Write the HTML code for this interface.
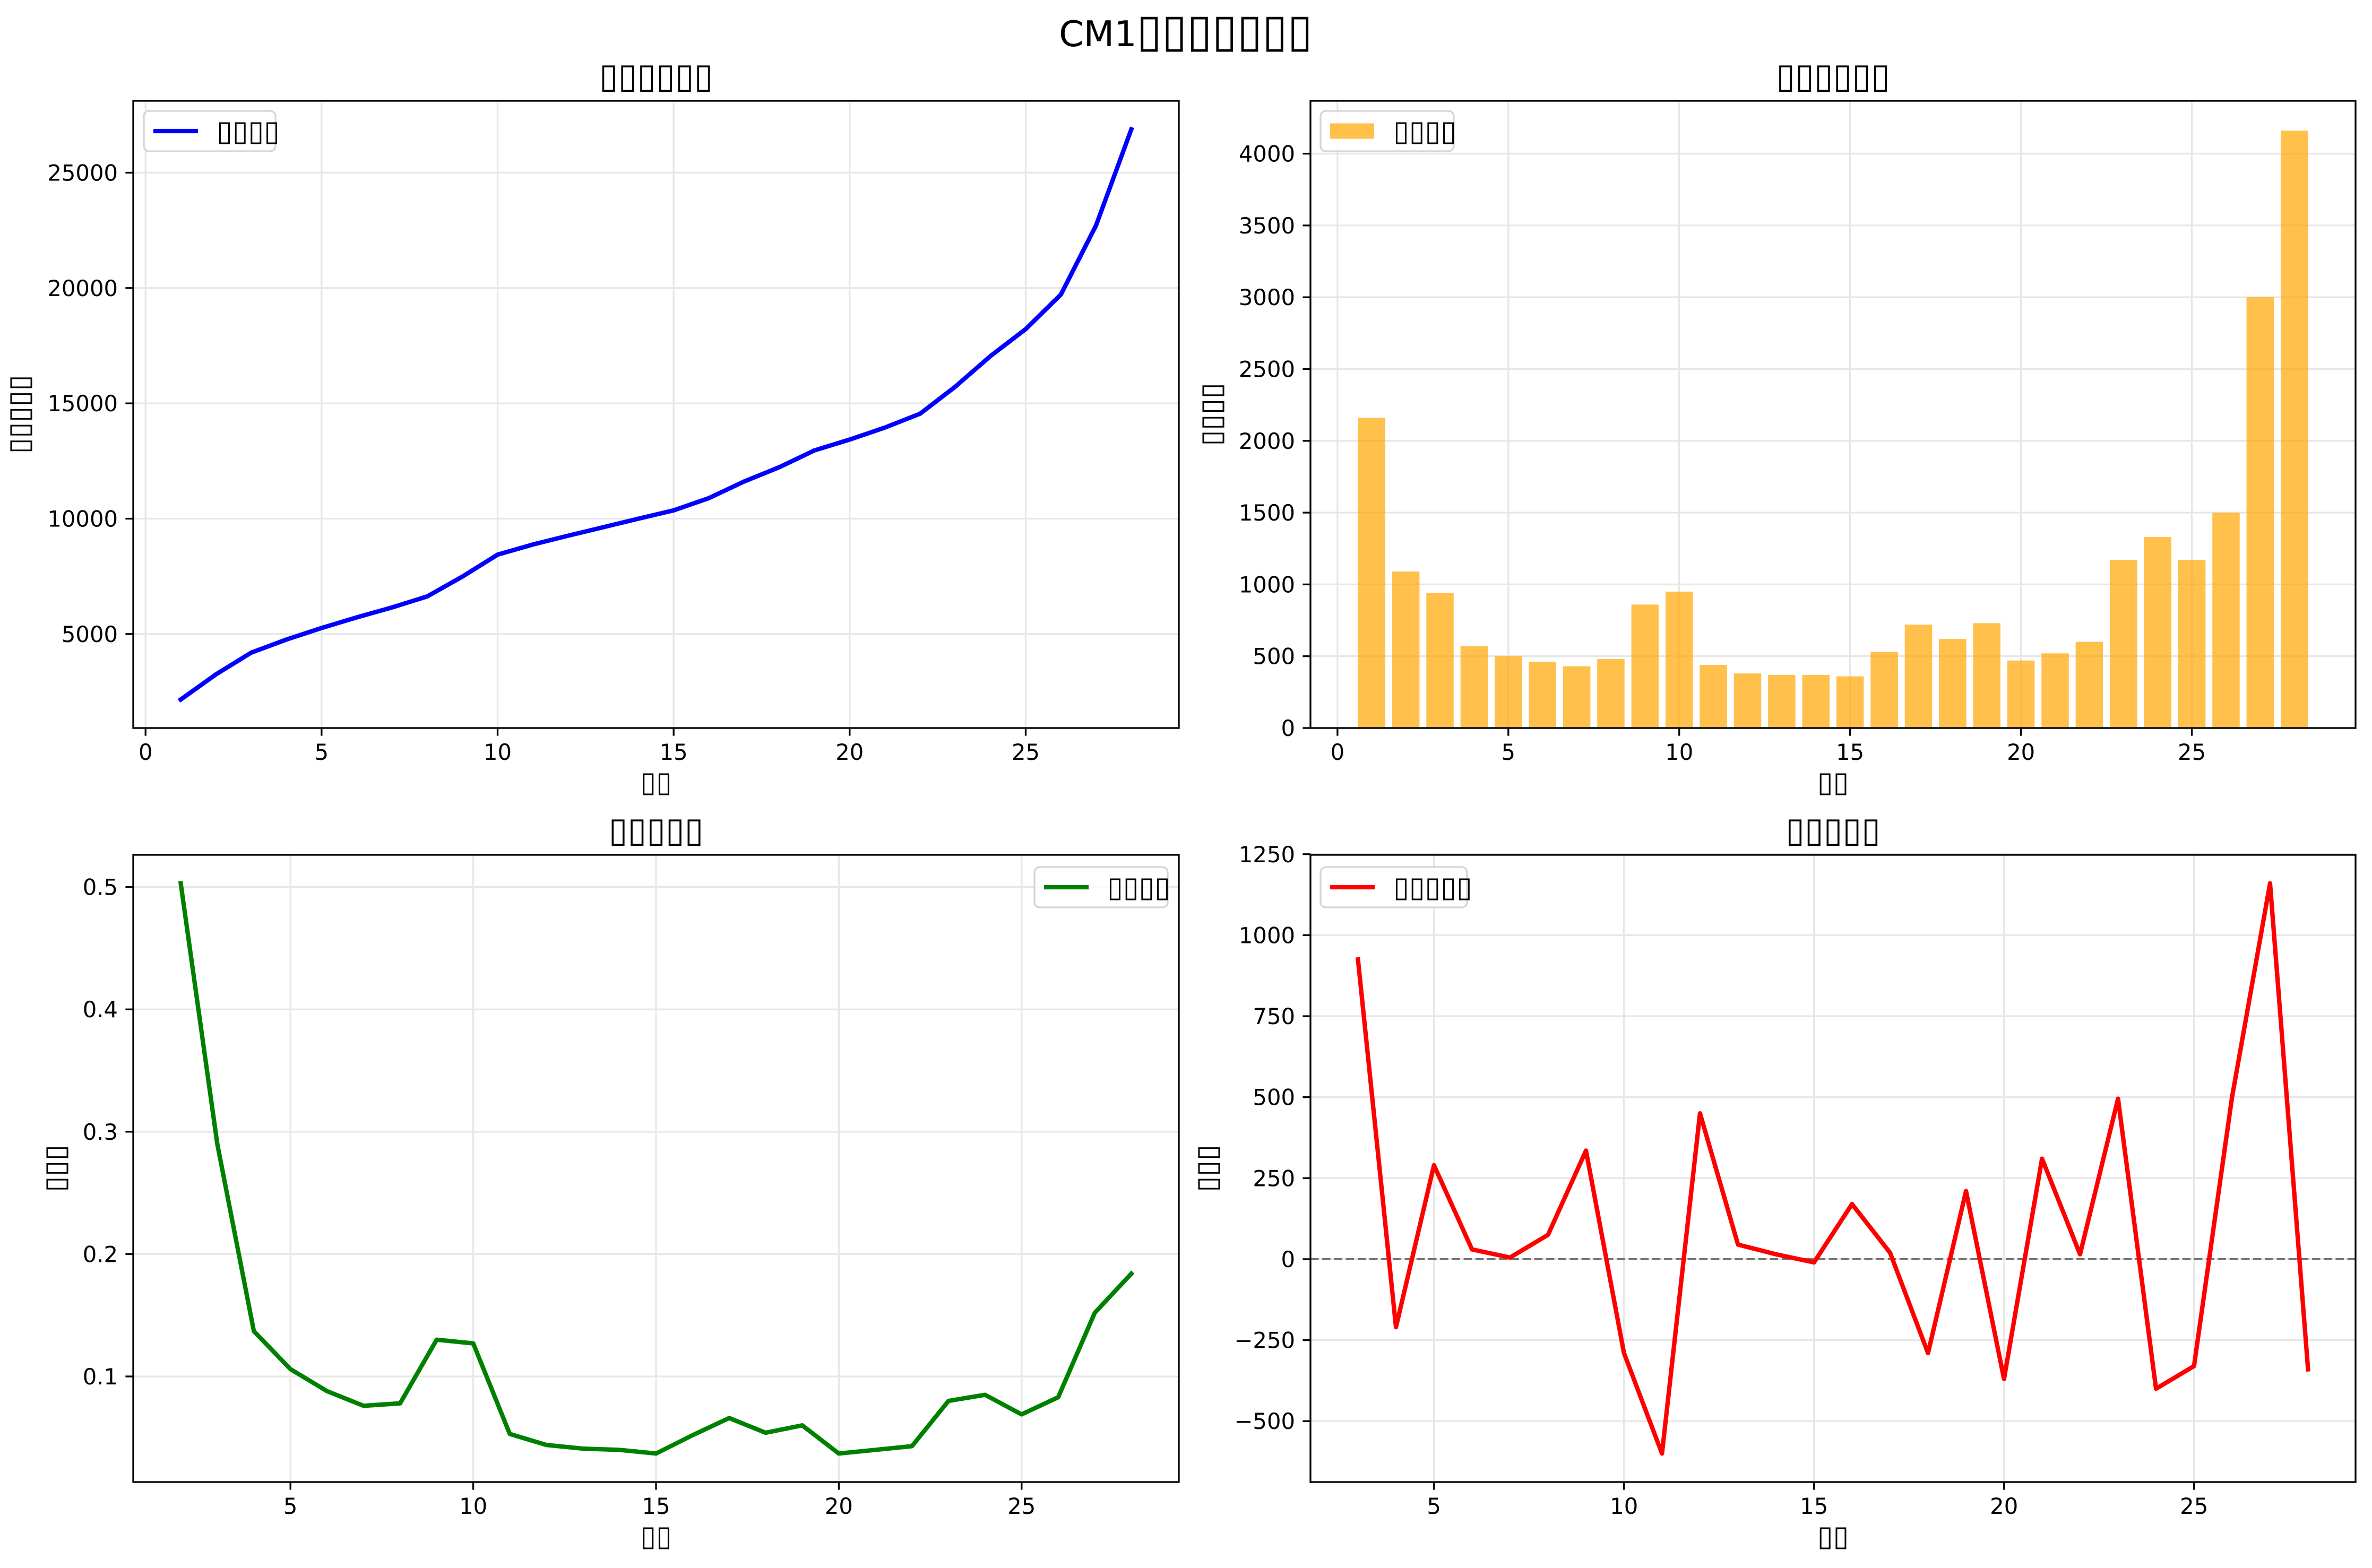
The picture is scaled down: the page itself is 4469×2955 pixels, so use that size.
<!DOCTYPE html>
<html><head><meta charset="utf-8"><style>
html,body{margin:0;padding:0;background:#fff;}
svg{display:block;font-family:"DejaVu Sans","Liberation Sans","Noto Sans CJK SC",sans-serif;}
</style></head><body>
<svg id="fig" width="4469" height="2955" viewBox="0 0 4469 2955" xmlns="http://www.w3.org/2000/svg">
<rect x="0" y="0" width="4469" height="2955" fill="#fff"/>
<text x="2234" y="87" font-size="66.7" text-anchor="middle">CM1<tspan font-size="86">▯▯▯▯▯▯▯</tspan></text>
</svg>
<script>
// ---- data ----
const cumDays = [1,2,3,4,5,6,7,8,9,10,11,12,13,14,15,16,17,18,19,20,21,22,23,24,25,26,27,28];
const cumValues = [2160,3250,4190,4760,5260,5720,6150,6630,7490,8440,8880,9260,9630,10000,10360,10890,11610,12230,12960,13430,13950,14550,15720,17050,18220,19720,22720,26880];
const incDays = [1,2,3,4,5,6,7,8,9,10,11,12,13,14,15,16,17,18,19,20,21,22,23,24,25,26,27,28];
const incValues = [2160,1090,940,570,500,460,430,480,860,950,440,380,370,370,360,530,720,620,730,470,520,600,1170,1330,1170,1500,3000,4160];
const growthDays = [2,3,4,5,6,7,8,9,10,11,12,13,14,15,16,17,18,19,20,21,22,23,24,25,26,27,28];
const growthValues = [0.503,0.29,0.137,0.106,0.088,0.076,0.078,0.130,0.127,0.053,0.044,0.041,0.040,0.037,0.052,0.066,0.054,0.060,0.037,0.040,0.043,0.080,0.085,0.069,0.083,0.152,0.184];
const accDays = [3,4,5,6,7,8,9,10,11,12,13,14,15,16,17,18,19,20,21,22,23,24,25,26,27,28];
const accValues = [925,-210,290,30,5,75,335,-290,-600,450,45,15,-10,170,20,-290,210,-370,310,15,495,-400,-330,500,1160,-340];
const tlXTicks = [0,5,10,15,20,25];
const tlYTicks = [5000,10000,15000,20000,25000];
const trXTicks = [0,5,10,15,20,25];
const trYTicks = [0,500,1000,1500,2000,2500,3000,3500,4000];
const blXTicks = [5,10,15,20,25];
const blYTicks = [0.1,0.2,0.3,0.4,0.5];
const brXTicks = [5,10,15,20,25];
const brYTicks = [-500,-250,0,250,500,750,1000,1250];

const NS = "http://www.w3.org/2000/svg";
const svg = document.getElementById('fig');
function mk(tag, attrs, parent){
  const e = document.createElementNS(NS, tag);
  for (const k in attrs) e.setAttribute(k, attrs[k]);
  (parent||svg).appendChild(e);
  return e;
}
function range(arr){let mn=Math.min(...arr),mx=Math.max(...arr);const m=(mx-mn)*0.05;return [mn-m,mx+m];}
function fmt(v){let s=(Math.round(v*1000)/1000).toString();if(s.startsWith('-'))s='\u2212'+s.slice(1);return s;}

function panel(name, x0,x1,y0,y1, xr, yr, xticks, yticks, title, xlabel, ylabel, ylabelX){
  const g = mk('g',{});
  
  
  const sx = v => x0 + (v-xr[0])/(xr[1]-xr[0])*(x1-x0);
  const sy = v => y1 - (v-yr[0])/(yr[1]-yr[0])*(y1-y0);
  const grid = mk('g',{},g);
  
  
  xticks.forEach(t=>{ mk('line',{x1:sx(t),x2:sx(t),y1:y0,y2:y1,stroke:'#e7e7e7','stroke-width':3.3},grid); });
  yticks.forEach(t=>{ mk('line',{x1:x0,x2:x1,y1:sy(t),y2:sy(t),stroke:'#e7e7e7','stroke-width':3.3},grid); });
  const marks = mk('g',{},g);
  
  
  const ax = mk('g',{},g);
  
  
  xticks.forEach(t=>{
    mk('line',{x1:sx(t),x2:sx(t),y1:y1,y2:y1+14.6,stroke:'#000','stroke-width':3.3},ax);
    const tx = mk('text',{x:sx(t),y:y1+60,'font-size':41.7,'text-anchor':'middle'},ax);
    
    
    tx.textContent = fmt(t);
  });
  yticks.forEach(t=>{
    mk('line',{x1:x0-14.6,x2:x0,y1:sy(t),y2:sy(t),stroke:'#000','stroke-width':3.3},ax);
    const tx = mk('text',{x:x0-29,y:sy(t)+15,'font-size':41.7,'text-anchor':'end'},ax);
    
    
    tx.textContent = fmt(t);
  });
  mk('rect',{x:x0,y:y0,width:x1-x0,height:y1-y0,fill:'none',stroke:'#000','stroke-width':3.3},ax);
  const tt = mk('text',{x:(x0+x1)/2,y:y0-25,'font-size':65,'text-anchor':'middle'},ax);
  
  
  tt.textContent = title;
  const xl = mk('text',{x:(x0+x1)/2,y:y1+120,'font-size':54,'text-anchor':'middle'},ax);
  
  
  xl.textContent = xlabel;
  const yc=(y0+y1)/2;
  const yl = mk('text',{x:ylabelX,y:yc,'font-size':54,'text-anchor':'middle','transform':`rotate(-90 ${ylabelX} ${yc})`},ax);
  
  
  yl.textContent = ylabel;
  return {sx,sy,marks,g};
}
function legend(p, x, y, w, h, kind, color, text){
  const lg = mk('g',{},p.g);
  
  
  mk('rect',{x:x,y:y,width:w,height:h,rx:10,fill:'#fff','fill-opacity':0.8,stroke:'#d5d5d5','stroke-width':3.3},lg);
  const cy=y+h/2;
  if(kind==='line') mk('line',{x1:x+18,x2:x+102,y1:cy,y2:cy,stroke:color,'stroke-width':8.3},lg);
  else mk('rect',{x:x+18,y:cy-14.5,width:83,height:29,fill:color},lg);
  const t = mk('text',{x:x+137,y:cy+18,'font-size':54},lg);
  
  
  t.textContent = text;
}
function line(p, xs, ys, color, name){
  const d = xs.map((x,i)=>(i?'L':'M')+p.sx(x).toFixed(1)+','+p.sy(ys[i]).toFixed(1)).join(' ');
  const pl = mk('path',{d:d,fill:'none',stroke:color,'stroke-width':8.3,'stroke-linejoin':'round','stroke-linecap':'square'},p.marks);
  
  
}

const p1 = panel('cumulative-panel',251,2221,190,1372, range(cumDays), range(cumValues), tlXTicks, tlYTicks, '▯▯▯▯▯▯', '▯▯', '▯▯▯▯▯', 54);
line(p1, cumDays, cumValues, '#0000ff', 'cumulative-line');
legend(p1, 271, 209, 248, 76, 'line', '#0000ff', '▯▯▯▯');

const incX = [Math.min(...incDays)-0.4, Math.max(...incDays)+0.4];
const incXr = [incX[0]-(incX[1]-incX[0])*0.05, incX[1]+(incX[1]-incX[0])*0.05];
const p2 = panel('increment-panel',2469,4438,190,1372, incXr, [0, Math.max(...incValues)*1.05], trXTicks, trYTicks, '▯▯▯▯▯▯', '▯▯', '▯▯▯▯', 2300);
incDays.forEach((d,i)=>{
  const xa=p2.sx(d-0.4), xb=p2.sx(d+0.4), yt=p2.sy(incValues[i]), yb=p2.sy(0);
  const b = mk('rect',{x:xa,y:yt,width:xb-xa,height:yb-yt,fill:'#ffa500','fill-opacity':0.7},p2.marks);
  
  
});
legend(p2, 2488, 209, 251, 76, 'patch', 'rgba(255,165,0,0.7)', '▯▯▯▯');

const p3 = panel('growth-panel',251,2221,1611,2793, range(growthDays), range(growthValues), blXTicks, blYTicks, '▯▯▯▯▯', '▯▯', '▯▯▯', 122);
line(p3, growthDays, growthValues, '#008000', 'growth-line');
legend(p3, 1949, 1634, 251, 76, 'line', '#008000', '▯▯▯▯');

const p4 = panel('acceleration-panel',2469,4438,1611,2793, range(accDays), range(accValues), brXTicks, brYTicks, '▯▯▯▯▯', '▯▯', '▯▯▯', 2292);
const zl = mk('line',{x1:2469,x2:4438,y1:p4.sy(0),y2:p4.sy(0),stroke:'#000','stroke-opacity':0.5,'stroke-width':4.2,'stroke-dasharray':'15.5 6.7'},p4.marks);


line(p4, accDays, accValues, '#ff0000', 'acceleration-line');
legend(p4, 2488, 1634, 276, 76, 'line', '#ff0000', '▯▯▯▯▯');
</script>
</body></html>
